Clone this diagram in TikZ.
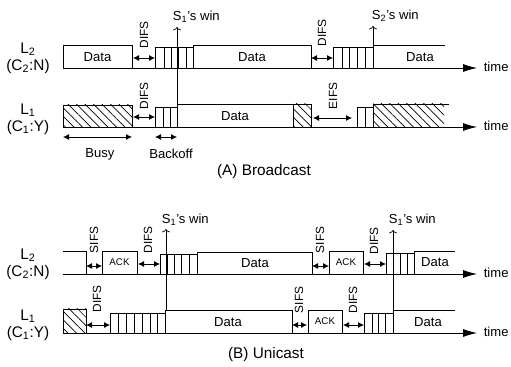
\documentclass[tikz,border=0pt]{standalone}
\usepackage{fontspec}
\setmainfont{Liberation Sans}
\usetikzlibrary{arrows.meta,patterns.meta}

\begin{document}
\begin{tikzpicture}[
    x=0.75pt, y=-0.75pt,
    line width=0.6pt,
    axis/.style={-{Latex[length=10.5pt,width=6pt]}},
    gap/.style={{Latex[length=4.5pt,width=4.5pt]}-{Latex[length=4.5pt,width=4.5pt]}},
    win/.style={-{To[length=2.5pt,width=6pt]}, line width=0.5pt},
    hatch/.style={pattern={Lines[angle=-45,distance=4.5pt,line width=0.5pt]}},
    slot/.style={draw, line width=0.5pt},
    lane/.style={font=\fontsize{11.5}{12.5}\selectfont, align=center},
    dlabel/.style={font=\fontsize{9.8}{11}\selectfont},
    ifs/.style={font=\fontsize{8.9}{10}\selectfont, rotate=90},
    acklabel/.style={font=\fontsize{7.3}{8}\selectfont},
    title/.style={font=\fontsize{11.5}{13}\selectfont}
]
\useasboundingbox (0,0) rectangle (511,367);

% ---- (A) Broadcast, L2
\node[lane] (la2) at (28,58) {L\textsubscript{2}\\(C\textsubscript{2}:N)};
\draw (63,45) rectangle (132,68);
\node[dlabel] (da1) at (97.5,57) {Data};
\draw[gap] (133,58) -- (155,58);
\node[ifs] (ia1) at (144,35) {DIFS};
\draw[slot] (155,47) rectangle (193,68);
\foreach \x in {164,171,178,186} \draw[slot] (\x,47) -- (\x,68);
\draw (193,45) rectangle (311,68);
\node[dlabel] (da2) at (252,57) {Data};
\draw[gap] (311,58) -- (333,58);
\node[ifs] (ia2) at (322,33) {DIFS};
\draw[slot] (333,47) rectangle (373,68);
\foreach \x in {342,349,357,365} \draw[slot] (\x,47) -- (\x,68);
\draw (373,68) -- (373,45) -- (445,45);
\node[dlabel] (da3) at (420,57) {Data};
\draw[axis] (63,68) -- (477,68);
\node[dlabel, anchor=west] (ta1) at (479,67) {time};
\draw[win] (373,47) -- (373,26);
\node[dlabel, anchor=west] (wa2) at (367,16) {S\textsubscript{2}'s win};
\draw[win] (177,104) -- (177,27);
\node[dlabel, anchor=west] (wa1) at (168,17) {S\textsubscript{1}'s win};

% ---- (A) Broadcast, L1
\node[lane] (la1) at (28,119) {L\textsubscript{1}\\(C\textsubscript{1}:Y)};
\draw[hatch] (63,105) rectangle (132,127);
\draw[gap] (133,117) -- (155,117);
\node[ifs] (ia3) at (144,96) {DIFS};
\draw[slot] (155,107) rectangle (177,127);
\foreach \x in {163,170} \draw[slot] (\x,107) -- (\x,127);
\draw (177,104) rectangle (293,127);
\node[dlabel] (da4) at (235,116) {Data};
\draw[hatch] (293,104) rectangle (311,127);
\draw[gap] (313,118) -- (352,118);
\node[ifs] (ia4) at (333,96) {EIFS};
\draw[slot] (357,107) rectangle (373,127);
\draw[slot] (365,107) -- (365,127);
\fill[hatch] (373,104) rectangle (444,127);
\draw (373,127) -- (373,104) -- (449,104);
\draw[axis] (63,127) -- (477,127);
\node[dlabel, anchor=west] (ta2) at (479,126) {time};
\draw[gap] (63,137) -- (132,137);
\node[dlabel] (busy) at (100,154) {Busy};
\draw[gap] (155,137) -- (177,137);
\node[dlabel] (boff) at (171,154) {Backoff};
\node[title] (capa) at (264,172) {(A) Broadcast};

% ---- (B) Unicast, L2
\node[lane] (lb2) at (28,264) {L\textsubscript{2}\\(C\textsubscript{2}:N)};
\draw (63,251) -- (86,251) -- (86,274);
\draw[gap] (86,266) -- (102,266);
\node[ifs] (ib1) at (94,240) {SIFS};
\draw (102,251) rectangle (137,274);
\node[acklabel] (ab1) at (119.5,262.5) {ACK};
\draw[gap] (138,264) -- (160,264);
\node[ifs] (ib2) at (148,240) {DIFS};
\draw[slot] (160,254) rectangle (197,274);
\foreach \x in {167,174,181,189} \draw[slot] (\x,254) -- (\x,274);
\draw (197,252) rectangle (312,274);
\node[dlabel] (db1) at (255,263) {Data};
\draw[gap] (312,266) -- (329,266);
\node[ifs] (ib3) at (320,240) {SIFS};
\draw (329,251) rectangle (363,274);
\node[acklabel] (ab2) at (346,262.5) {ACK};
\draw[gap] (364,264) -- (386,264);
\node[ifs] (ib4) at (374,241) {DIFS};
\draw[slot] (386,253) rectangle (414,274);
\foreach \x in {393,400,407} \draw[slot] (\x,253) -- (\x,274);
\draw (414,274) -- (414,251) -- (455,251);
\node[dlabel] (db2) at (435,262) {Data};
\draw[axis] (63,274) -- (477,274);
\node[dlabel, anchor=west] (tb1) at (479,273) {time};
\draw[win] (166,310) -- (166,229);
\node[dlabel, anchor=west] (wb1) at (157,220) {S\textsubscript{1}'s win};
\draw[win] (393,310) -- (393,230);
\node[dlabel, anchor=west] (wb2) at (384,220) {S\textsubscript{1}'s win};

% ---- (B) Unicast, L1
\node[lane] (lb1) at (28,325) {L\textsubscript{1}\\(C\textsubscript{1}:Y)};
\draw[hatch] (63,309) rectangle (86,333);
\draw[gap] (86,325) -- (110,325);
\node[ifs] (ib5) at (97,299) {DIFS};
\draw[slot] (110,313) rectangle (165,333);
\foreach \x in {118,126,134,142,150,157} \draw[slot] (\x,313) -- (\x,333);
\draw (165,310) rectangle (292,333);
\node[dlabel] (db3) at (228,322) {Data};
\draw[gap] (292,325) -- (307,325);
\node[ifs] (ib6) at (299,300) {SIFS};
\draw (308,310) rectangle (342,333);
\node[acklabel] (ab3) at (325,321.5) {ACK};
\draw[gap] (343,325) -- (364,325);
\node[ifs] (ib7) at (353,300) {DIFS};
\draw[slot] (364,313) rectangle (393,333);
\foreach \x in {372,378,385} \draw[slot] (\x,313) -- (\x,333);
\draw (393,333) -- (393,310) -- (455,310);
\node[dlabel] (db4) at (428,322) {Data};
\draw[axis] (63,333) -- (477,333);
\node[dlabel, anchor=west] (tb2) at (479,332) {time};
\node[title] (capb) at (266,355) {(B) Unicast};
\end{tikzpicture}
\end{document}
